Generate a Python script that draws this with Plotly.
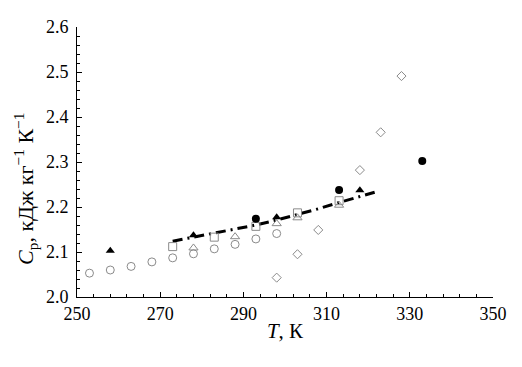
import plotly.graph_objects as go

# Data
circ_open_T = [253, 258, 263, 268, 273, 278, 283, 288, 293, 298]
circ_open_Cp = [2.053, 2.060, 2.068, 2.078, 2.087, 2.096, 2.107, 2.117, 2.129, 2.141]

sq_open_T = [273, 283, 293, 303, 313]
sq_open_Cp = [2.112, 2.133, 2.157, 2.187, 2.214]

tri_open_T = [278, 288, 298, 303, 313]
tri_open_Cp = [2.109, 2.134, 2.163, 2.176, 2.204]

tri_fill_T = [258, 278, 298, 318]
tri_fill_Cp = [2.103, 2.137, 2.177, 2.237]

circ_fill_T = [293, 313, 333]
circ_fill_Cp = [2.174, 2.238, 2.302]

dia_open_T = [298, 303, 308, 318, 323, 328]
dia_open_Cp = [2.043, 2.095, 2.149, 2.282, 2.366, 2.491]

line_T = [273, 278, 283, 288, 293, 298, 303, 308, 313, 318, 322]
line_Cp = [2.124, 2.133, 2.142, 2.151, 2.160, 2.171, 2.183, 2.196, 2.210, 2.223, 2.234]

x_ticks = [250, 270, 290, 310, 330, 350]
y_ticks = [2.0, 2.1, 2.2, 2.3, 2.4, 2.5, 2.6]

grey = "#8a8a8a"
fig = go.Figure()

fig.add_trace(go.Scatter(x=line_T, y=line_Cp, mode="lines",
                         line=dict(color="black", width=3, dash="10px,5px,2px,5px")))
fig.add_trace(go.Scatter(x=circ_open_T, y=circ_open_Cp, mode="markers",
                         marker=dict(symbol="circle-open", size=8, color=grey, line=dict(width=1))))
fig.add_trace(go.Scatter(x=sq_open_T, y=sq_open_Cp, mode="markers",
                         marker=dict(symbol="square-open", size=8, color=grey, line=dict(width=1))))
fig.add_trace(go.Scatter(x=tri_open_T, y=tri_open_Cp, mode="markers",
                         marker=dict(symbol="triangle-up-open", size=8, color=grey, line=dict(width=1))))
fig.add_trace(go.Scatter(x=dia_open_T, y=dia_open_Cp, mode="markers",
                         marker=dict(symbol="diamond-open", size=7, color=grey, line=dict(width=1))))
fig.add_trace(go.Scatter(x=tri_fill_T, y=tri_fill_Cp, mode="markers",
                         marker=dict(symbol="triangle-up", size=8, color="black")))
fig.add_trace(go.Scatter(x=circ_fill_T, y=circ_fill_Cp, mode="markers",
                         marker=dict(symbol="circle", size=8, color="black")))

font = dict(family="Liberation Serif, Times New Roman, serif", size=18, color="black")

fig.update_layout(
    width=514, height=359,
    margin=dict(l=69, r=29, t=19, b=70),
    plot_bgcolor="white", paper_bgcolor="white",
    showlegend=False,
    font=font,
    xaxis=dict(range=[250, 350], tickvals=x_ticks, ticks="inside", ticklen=5,
               tickcolor="black", showline=True, linecolor="black", linewidth=1,
               showgrid=False, zeroline=False, automargin=False,
               minor=dict(dtick=4, tick0=250, ticks="inside", ticklen=3, tickcolor="black"),
               title=dict(text="<i>T</i>, К", font=dict(size=21), standoff=0)),
    yaxis=dict(range=[2.0, 2.6], tickvals=y_ticks, tickformat=".1f", ticks="inside", ticklen=5,
               tickcolor="black", showline=True, linecolor="black", linewidth=1,
               showgrid=False, zeroline=False, automargin=False, ticklabelstandoff=4,
               minor=dict(dtick=0.02, tick0=2.0, ticks="inside", ticklen=3, tickcolor="black")),
    annotations=[dict(text="<i>C</i><sub>p</sub>, кДж кг<sup>−1</sup> К<sup>−1</sup>",
                      xref="paper", yref="paper", x=-0.125, y=0.40, textangle=-90,
                      xanchor="center", yanchor="middle", showarrow=False,
                      font=dict(size=22))],
)

fig.write_html("out.html")
